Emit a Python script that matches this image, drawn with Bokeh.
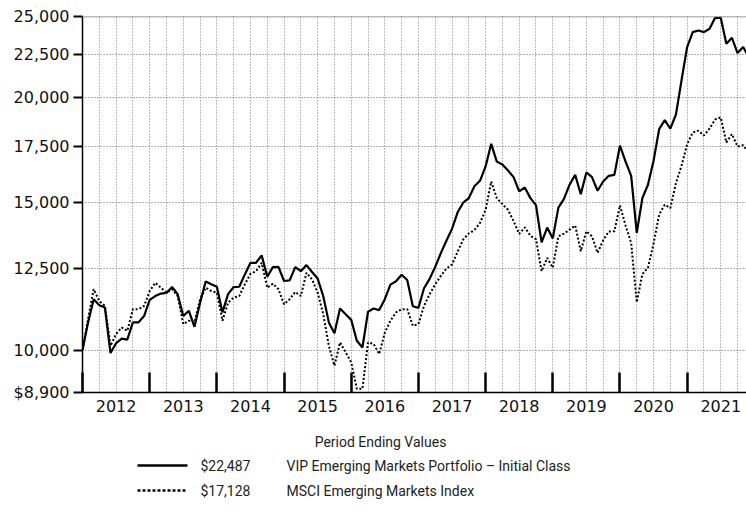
from bokeh.plotting import figure
from bokeh.models import FixedTicker, Range1d, Span
from bokeh.layouts import column
from bokeh.core.properties import value
from bokeh.embed import file_html
from bokeh.resources import INLINE

# months since Dec 2011 (0) through Dec 2021 (120)
months = list(range(121))

vip = [10000, 10790, 11500, 11310, 11240, 9920, 10190, 10320, 10290, 10790,
       10790, 10980, 11480, 11600, 11680, 11700, 11890, 11660, 10980, 11140,
       10660, 11390, 12070, 11980, 11900, 11090, 11660, 11890, 11900, 12310,
       12710, 12710, 12970, 12230, 12560, 12570, 12090, 12110, 12560, 12420,
       12630, 12390, 12170, 11600, 10790, 10470, 11210, 11035, 10865, 10260,
       10070, 11110, 11210, 11160, 11500, 11970, 12080, 12300, 12120, 11280,
       11230, 11850, 12160, 12570, 13050, 13500, 13950, 14600, 14990, 15180,
       15680, 15920, 16560, 17620, 16780, 16650, 16380, 16080, 15460, 15630,
       15180, 14890, 13440, 14000, 13590, 14790, 15150, 15750, 16180, 15340,
       16290, 16080, 15490, 15890, 16140, 16180, 17540, 16780, 16140, 13800,
       15180, 15750, 16820, 18350, 18810, 18370, 19100, 20990, 22990, 23950,
       24060, 23950, 24170, 24910, 24910, 23200, 23580, 22610, 22990, 22370,
       22487]

msci = [10000, 10900, 11820, 11440, 11290, 10120, 10450, 10640, 10540, 11190,
        11190, 11290, 11760, 12030, 11870, 11710, 11820, 11600, 10740, 10840,
        10790, 11500, 11870, 11760, 11710, 10840, 11390, 11550, 11600, 11980,
        12330, 12420, 12710, 11870, 12000, 11820, 11340, 11500, 11730, 11600,
        12370, 12140, 11710, 11035, 10120, 9580, 10210, 9940, 9670, 8990,
        8990, 10210, 10170, 9890, 10490, 10840, 11090, 11190, 11190, 10690,
        10740, 11290, 11660, 11980, 12260, 12510, 12650, 13100, 13550, 13780,
        13900, 14180, 14700, 15890, 15180, 14930, 14700, 14250, 13760, 14010,
        13690, 13560, 12420, 12880, 12540, 13670, 13770, 13920, 14080, 13120,
        13860, 13670, 13060, 13520, 13850, 13860, 14880, 14080, 13420, 11400,
        12320, 12540, 13400, 14510, 14910, 14770, 15820, 16600, 17600, 18180,
        18270, 18030, 18380, 18840, 18950, 17690, 18100, 17490, 17560, 17170,
        17128]

years = ["2012", "2013", "2014", "2015", "2016", "2017", "2018", "2019", "2020", "2021"]
y_ticks = [8900, 10000, 12500, 15000, 17500, 20000, 22500, 25000]
y_tick_labels = ["$8,900", "10,000", "12,500", "15,000", "17,500", "20,000", "22,500", "25,000"]

legend_title = "Period Ending Values"
legend_values = ["$22,487", "$17,128"]
legend_names = ["VIP Emerging Markets Portfolio \u2013 Initial Class", "MSCI Emerging Markets Index"]

AX_FONT = "DejaVu Sans"
LG_FONT = "Roboto"

MAIN_H = 422
LEFT = 82
p = figure(width=746, height=MAIN_H,
           x_range=Range1d(0, 118.6), y_range=Range1d(8900, 25000),
           y_axis_type="log", output_backend="svg", toolbar_location=None,
           min_border_left=LEFT, min_border_right=0, min_border_top=16, min_border_bottom=30)
p.outline_line_color = None
p.background_fill_color = "white"
p.border_fill_color = "white"

# y axis
p.yaxis.ticker = FixedTicker(ticks=y_ticks, minor_ticks=[])
p.yaxis.major_label_overrides = {t: l for t, l in zip(y_ticks, y_tick_labels)}
p.yaxis.major_tick_in = 0
p.yaxis.major_tick_out = 9
p.yaxis.major_tick_line_width = 2
p.yaxis.major_tick_line_color = "black"
p.yaxis.minor_tick_line_color = None
p.yaxis.axis_line_color = "black"
p.yaxis.axis_line_width = 1.5
p.yaxis.major_label_standoff = 4
p.yaxis.major_label_text_font = AX_FONT
p.yaxis.major_label_text_font_size = "16px"
p.yaxis.major_label_text_color = "#111"

# x axis: year labels at mid-year, boundary ticks as minor ticks
mid = [6 + 12 * i for i in range(len(years))]
bounds = [12 * i for i in range(len(years))]
p.xaxis.ticker = FixedTicker(ticks=mid, minor_ticks=bounds)
p.xaxis.major_label_overrides = {m: y for m, y in zip(mid, years)}
p.xaxis.major_tick_in = 0
p.xaxis.major_tick_out = 0
p.xaxis.minor_tick_in = 20
p.xaxis.minor_tick_out = 0
p.xaxis.minor_tick_line_width = 2.5
p.xaxis.minor_tick_line_color = "black"
p.xaxis.axis_line_color = "black"
p.xaxis.axis_line_width = 1.5
p.xaxis.major_label_standoff = 7
p.xaxis.major_label_text_font = AX_FONT
p.xaxis.major_label_text_font_size = "16px"
p.xaxis.major_label_text_color = "#111"

# grids
p.xgrid.ticker = FixedTicker(ticks=[3 * i for i in range(1, 40)])
p.xgrid.grid_line_color = "#777"
p.xgrid.grid_line_dash = "1 2"
p.xgrid.grid_line_width = 1
p.ygrid.ticker = FixedTicker(ticks=y_ticks[1:-1])
p.ygrid.grid_line_color = "#666"
p.ygrid.grid_line_dash = "1 2"
p.ygrid.grid_line_width = 1

p.add_layout(Span(location=25000, dimension="width", line_color="#777", line_width=1.5))

p.line(months, msci, line_color="black", line_width=2, line_dash="2 2")
p.line(months, vip, line_color="black", line_width=2.2)

# legend panel (coordinates in page pixels below the chart; frame is aligned with the chart's)
LG_H = 523 - MAIN_H
lg = figure(width=746, height=LG_H, x_range=Range1d(LEFT, 746),
            y_range=Range1d(MAIN_H + LG_H, MAIN_H),
            output_backend="svg", toolbar_location=None, min_border=0,
            min_border_left=LEFT,
            x_axis_location=None, y_axis_location=None)
lg.grid.visible = False
lg.outline_line_color = None

lg.text(x=[380], y=[441], text=[legend_title], text_font=value(LG_FONT),
        text_font_size="14px", text_align="center", text_baseline="middle", text_color="#222")
row_y = [465, 490]
lg.segment(x0=[137], x1=[187], y0=[row_y[0]], y1=[row_y[0]], line_color="black", line_width=2.5)
lg.segment(x0=[137], x1=[187], y0=[row_y[1]], y1=[row_y[1]], line_color="black", line_width=2.5,
           line_dash="3 2")
lg.text(x=[200, 200], y=row_y, text=legend_values, text_font=value(LG_FONT),
        text_font_size="14px", text_align="left", text_baseline="middle", text_color="#222")
lg.text(x=[286, 286], y=row_y, text=legend_names, text_font=value(LG_FONT),
        text_font_size="14px", text_align="left", text_baseline="middle", text_color="#222")

layout = column(p, lg, spacing=0)
open("out.html", "w").write(file_html(layout, INLINE))
